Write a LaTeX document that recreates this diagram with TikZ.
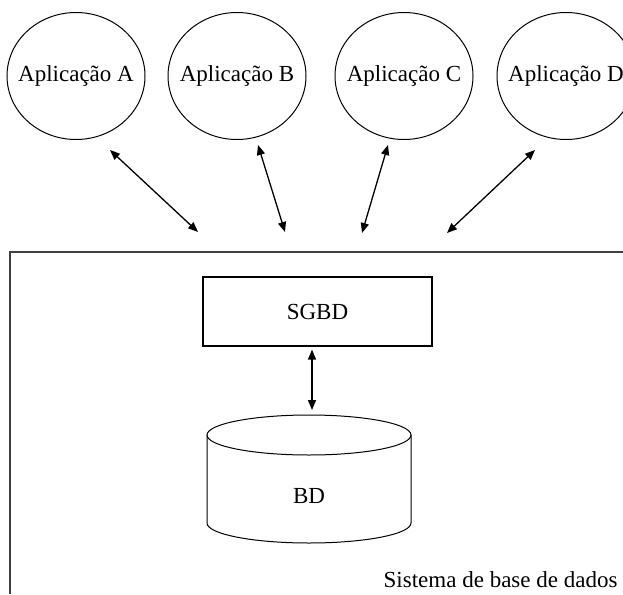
\documentclass[tikz,border=0pt]{standalone}
\usepackage{fontspec}
\setmainfont{Liberation Serif}
\usepackage{tikz}
\usetikzlibrary{arrows.meta,positioning,calc,shapes.geometric}

\begin{document}
\begin{tikzpicture}[x=1pt,y=-1pt,>={Triangle[length=10pt,width=8pt]},
  txt/.style={font=\fontsize{23}{27}\selectfont},
  app/.style={ellipse,draw,line width=1pt,minimum width=138pt,minimum height=127pt,inner sep=0pt,txt},
  link/.style={<->,line width=1.3pt}]
  \useasboundingbox (0,0) rectangle (623,594);
  % applications
  \node[app] (appA) at (76,76) {\makebox[0pt]{Aplica\c{c}\~ao A}};
  \node[app] (appB) at (237,76) {\makebox[0pt]{Aplica\c{c}\~ao B}};
  \node[app] (appC) at (404,76) {\makebox[0pt]{Aplica\c{c}\~ao C}};
  \node[app] (appD) at (566,76) {\makebox[0pt]{Aplica\c{c}\~ao D}};
  % system frame
  \draw[line width=1.6pt,black!75] (623,252) -- (10,252) -- (10,594);
  \node[txt,anchor=base east] (sys) at (621,587) {Sistema de base de dados};
  % links to the system
  \coordinate (ta) at (110,150); \coordinate (sa) at (198,232);
  \coordinate (tb) at (258,145); \coordinate (sb) at (285,232);
  \coordinate (tc) at (388,145); \coordinate (sc) at (362,233);
  \coordinate (td) at (535,150); \coordinate (sd) at (447,233);
  \draw[link] (ta) -- (sa);
  \draw[link] (tb) -- (sb);
  \draw[link] (tc) -- (sc);
  \draw[link] (td) -- (sd);
  % dbms
  \node[draw,line width=1.2pt,minimum width=229pt,minimum height=69pt,txt] (sgbd) at (317.5,311.5) {SGBD};
  % database
  \coordinate (bdtop) at (312,415);
  \draw[line width=1pt] (309,435) ellipse [x radius=102,y radius=20];
  \draw[line width=1pt] (207,435) -- (207,523) arc[start angle=180,end angle=0,x radius=102,y radius=20] -- (411,435);
  \node[txt] (bd) at (309,496) {BD};
  \draw[link] ([yshift=-3pt]sgbd.south -| bdtop) -- ([yshift=5pt]bdtop);
\end{tikzpicture}
\end{document}
